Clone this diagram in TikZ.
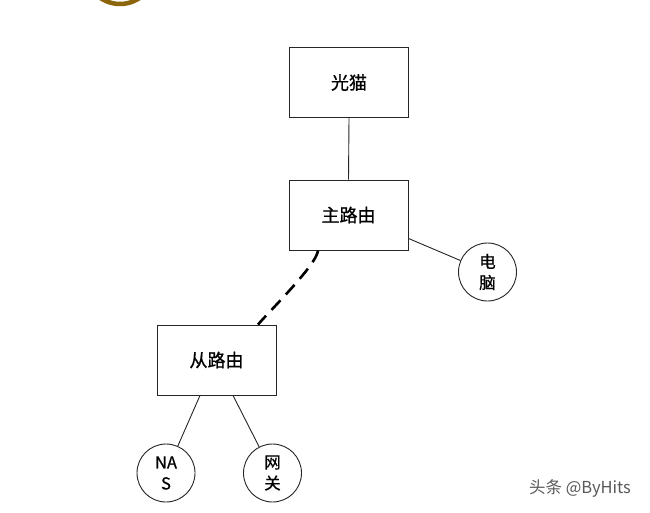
\documentclass[tikz,border=0pt]{standalone}
\usepackage{fontspec}
\setmainfont{Liberation Sans}
\newfontfamily\cjk[FakeBold=0.8]{Noto Sans CJK SC}
\newfontfamily\cjkw{Noto Sans CJK SC}
\begin{document}
\begin{tikzpicture}[x=1pt,y=-1pt,
  box/.style={draw=black!85,line width=0.9pt,minimum width=119pt,minimum height=70pt,inner sep=0pt,font=\cjk\fontsize{18}{21}\selectfont},
  dev/.style={draw=black!85,line width=0.9pt,circle,minimum size=58pt,inner sep=0pt,align=center,font=\cjk\fontsize{16.5}{21}\selectfont},
  link/.style={draw=black!85,line width=0.9pt}]
\useasboundingbox (0,0) rectangle (650,512);
\fill[white] (0,0) rectangle (650,512);
\begin{scope}
\clip (0,0) rectangle (650,512);
\draw[draw={rgb,255:red,140;green,100;blue,10},line width=4.5pt] (120,-38) ellipse (38pt and 42pt);
\end{scope}
\node[box] (modem) at (349,82.5) {光猫};
\node[box] (main) at (348.5,215) {主路由};
\node[box] (sub) at (216.5,360) {从路由};
\node[dev] (pc) at (487.5,272) {电\\脑};
\node[dev] (nas) at (166,473) {NA\\S};
\node[dev] (gw) at (272.5,473) {网\\关};
\draw[link] (modem.south) -- (main.north);
\draw[link] ([yshift=12pt]main.south east) -- (pc);
\draw[link] ([xshift=-16.5pt]sub.south) -- (nas);
\draw[link] ([xshift=16.5pt]sub.south) -- (gw);
\draw[line width=2.6pt,dash pattern=on 13pt off 8pt] ([xshift=-30.5pt]main.south) .. controls +(-1,14) and +(12,-14) .. ([xshift=41.5pt]sub.north);
\node[font=\cjkw\fontsize{16.5}{19}\selectfont,text=black!65,anchor=center] (wm) at (580,488) {头条 @ByHits};
\end{tikzpicture}
\end{document}
